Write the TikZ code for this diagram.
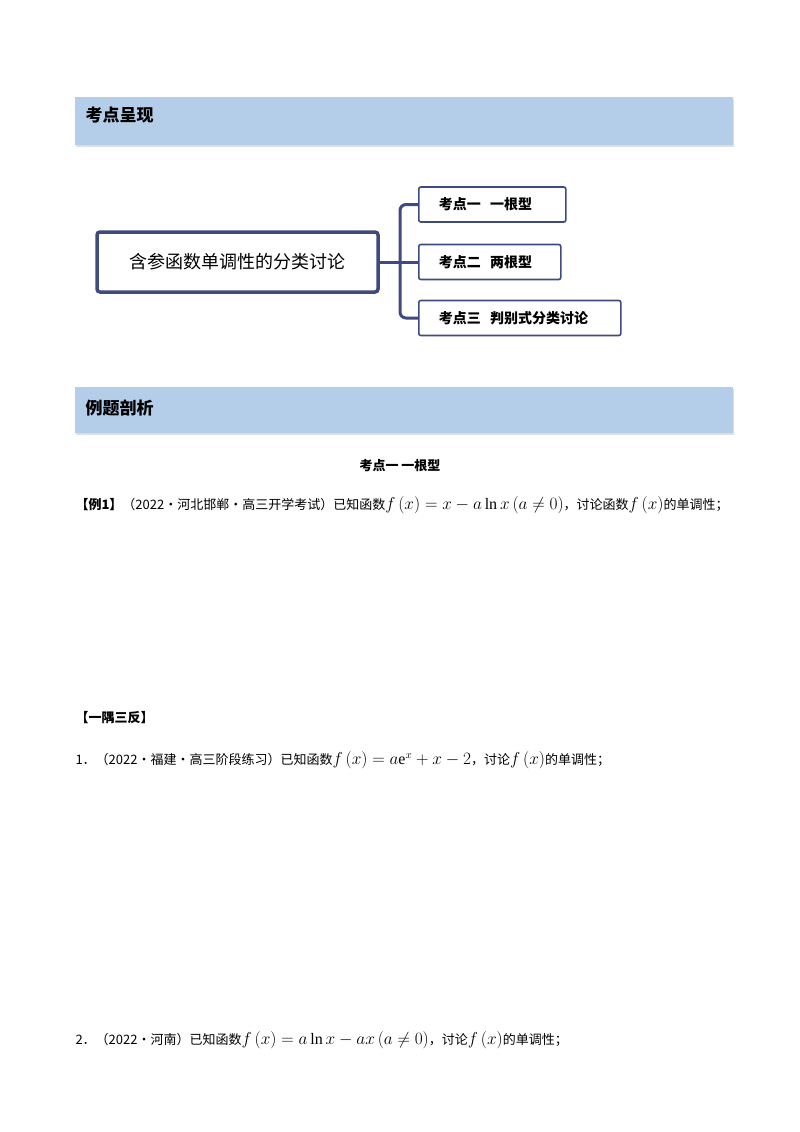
\documentclass[tikz,border=0pt]{standalone}
\usepackage{fontspec}
\setmainfont{Liberation Serif}
\newfontfamily\cjk{Noto Sans CJK SC}
\usetikzlibrary{shadows}
\definecolor{navy}{HTML}{3F4A7E}
\definecolor{barblue}{HTML}{B4CDE8}
\newcommand{\mymath}[1]{{\fontsize{16}{16}\selectfont$#1$}}
\tikzset{
  bar/.style={fill=barblue,draw=none,drop shadow={opacity=0.25,shadow xshift=1pt,shadow yshift=-2pt}},
  bartext/.style={anchor=west,font=\cjk\fontsize{17}{17}\selectfont\bfseries},
  child/.style={draw=navy,line width=1.6pt,rounded corners=2pt,anchor=west,minimum height=35pt,inner xsep=20pt,font=\cjk\fontsize{14}{14}\selectfont\bfseries},
  conn/.style={draw=navy,line width=3pt,rounded corners=6pt},
  body/.style={anchor=west,font=\cjk\fontsize{13}{13}\selectfont}
}
\begin{document}
\begin{tikzpicture}[x=1pt,y=-1pt]
\useasboundingbox (0,0) rectangle (800,1132);
\path[bar] (75,97) rectangle (733,145);
\node[bartext] (h1) at (82,115) {考点呈现};
\node[draw=navy,line width=3.5pt,rounded corners=3pt,minimum width=281pt,minimum height=60pt,font=\cjk\fontsize{18}{18}\selectfont] (c) at (237.5,262) {含参函数单调性的分类讨论};
\node[child,minimum width=147pt,text width=107pt] (k1) at (418,204.5) {考点一\ \ 一根型};
\node[child,minimum width=142pt,text width=102pt] (k2) at (418,262) {考点二\ \ 两根型};
\node[child,minimum width=202pt,text width=162pt] (k3) at (418,318) {考点三\ \ 判别式分类讨论};
\coordinate (j) at (400,262);
\draw[conn] (c.east) -- (k2.west);
\draw[conn] (k1.west) -| (j) |- (k3.west);
\path[bar] (75,387) rectangle (733,433);
\node[bartext] (h2) at (82,408) {例题剖析};
\node[font=\cjk\fontsize{13}{13}\selectfont\bfseries] (t1) at (400,466) {考点一\ 一根型};
\node[body] (e1) at (72,505) {{\bfseries【例1】}（2022·河北邯郸·高三开学考试）已知函数\mymath{f\left(x\right)=x-a\ln x\left(a\neq0\right)}，讨论函数\mymath{f\left(x\right)}的单调性；};
\node[body] (y) at (72,718) {\bfseries【一隅三反】};
\node[body] (q1) at (72,760) {1．（2022·福建·高三阶段练习）已知函数\mymath{f\left(x\right)=a\mathrm{e}^{x}+x-2}，讨论\mymath{f\left(x\right)}的单调性；};
\node[body] (q2) at (72,1040) {2．（2022·河南）已知函数\mymath{f\left(x\right)=a\ln x-ax\left(a\neq0\right)}，讨论\mymath{f\left(x\right)}的单调性；};
\end{tikzpicture}
\end{document}
